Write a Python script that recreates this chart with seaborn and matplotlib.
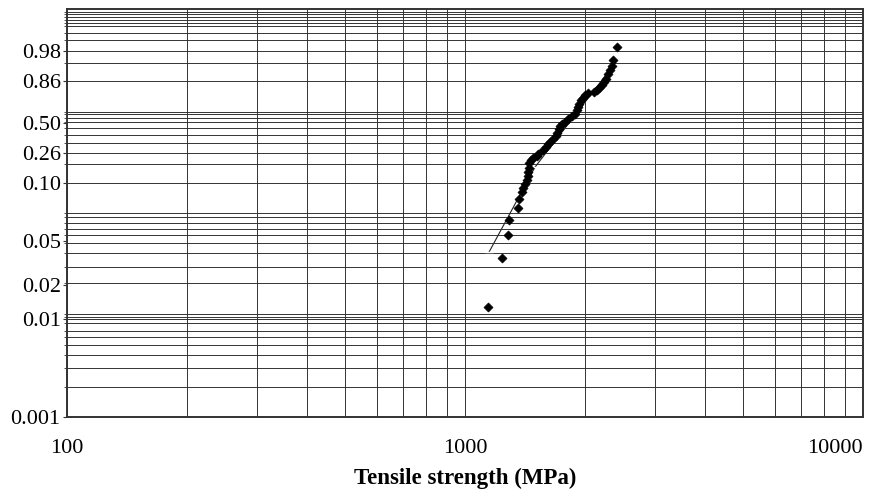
import numpy as np
import pandas as pd
import matplotlib
matplotlib.use("Agg")
import matplotlib.pyplot as plt
import matplotlib.ticker as mticker
import seaborn as sns

# ---------------- data ----------------
strength_mpa = [1142, 1239, 1282, 1290, 1356, 1369, 1388, 1401, 1415, 1429,
                1437, 1442, 1448, 1451, 1465, 1484, 1514, 1528, 1573, 1598,
                1614, 1635, 1667, 1693, 1706, 1720, 1733, 1750, 1784, 1818,
                1854, 1890, 1908, 1926, 1938, 1956, 1983, 2002, 2037, 2113,
                2142, 2175, 2205, 2235, 2261, 2292, 2314, 2337, 2350, 2405]
failure_prob = [0.0128, 0.0352, 0.0538, 0.0644, 0.0746, 0.0828, 0.0899, 0.0943, 0.0989, 0.1105,
                0.1260, 0.1435, 0.1632, 0.1912, 0.2100, 0.2234, 0.2397, 0.2523, 0.2793, 0.3015,
                0.3186, 0.3379, 0.3588, 0.3856, 0.4145, 0.4438, 0.4744, 0.4905, 0.5113, 0.5411,
                0.5616, 0.5860, 0.6160, 0.6461, 0.6771, 0.7068, 0.7272, 0.7507, 0.7677, 0.7786,
                0.7981, 0.8139, 0.8314, 0.8552, 0.8765, 0.9006, 0.9204, 0.9375, 0.9606, 0.9867]

fit_mpa = [1149, 1499, 2423]
fit_prob = [0.0398, 0.1685, 0.9615]

y_tick_values = [0.001, 0.01, 0.02, 0.05, 0.10, 0.26, 0.50, 0.86, 0.98]
y_tick_labels = ["0.001", "0.01", "0.02", "0.05", "0.10", "0.26", "0.50", "0.86", "0.98"]
x_tick_values = [100, 1000, 10000]
x_tick_labels = ["100", "1000", "10000"]

# ---------------- probability-paper scale (layout) ----------------
# heights (px above the bottom frame) of the labelled rulings on the printed paper
LABEL_HEIGHTS = [0, 98, 132, 176, 234, 264, 294, 336, 366]
TOP_HEIGHT = 408
# heights of the printed rulings
GRID_HEIGHTS = [405.3, 403, 400.3, 397.7, 394.3, 391, 384.7, 377, 366.3, 354.3,
                336.3, 305.3, 303, 299.7, 295.3, 289.7, 282.3, 274.3, 264.7, 252.7,
                234.3, 204.3, 199.7, 194.3, 188, 182, 173.7, 163.7, 150.3, 133.7,
                102.7, 100.3, 97.7, 94.3, 86.3, 79.7, 71.7, 62, 48.7, 30.3]


def weib(F):
    F = np.clip(np.asarray(F, dtype=float), 1e-15, 1 - 1e-15)
    return np.log(-np.log1p(-F))


w_lab = weib(y_tick_values)
slope_lo = (w_lab[1] - w_lab[0]) / (LABEL_HEIGHTS[1] - LABEL_HEIGHTS[0])
slope_hi = (w_lab[-1] - w_lab[-2]) / (LABEL_HEIGHTS[-1] - LABEL_HEIGHTS[-2])
w_top = w_lab[-1] + slope_hi * (TOP_HEIGHT - LABEL_HEIGHTS[-1])
P_ANCH = np.array([-1000] + LABEL_HEIGHTS + [TOP_HEIGHT, 1400], dtype=float)
W_ANCH = np.concatenate([[w_lab[0] - 1000 * slope_lo], w_lab,
                         [w_top, w_top + slope_hi * (1400 - TOP_HEIGHT)]])


def fwd(F):
    return np.interp(weib(F), W_ANCH, P_ANCH)


def inv(p):
    w = np.interp(np.asarray(p, dtype=float), P_ANCH, W_ANCH)
    return -np.expm1(-np.exp(w))


# ---------------- figure ----------------
sns.set_theme(style="white")
plt.rcParams["font.family"] = ["Liberation Serif", "DejaVu Serif"]

fig = plt.figure(figsize=(8.92, 4.96), dpi=100)
ax = fig.add_axes([0.0751, 0.1593, 0.8924, 0.8219])

pts = pd.DataFrame({"strength": strength_mpa, "prob": failure_prob})
fit = pd.DataFrame({"strength": fit_mpa, "prob": fit_prob})

ax.set_xscale("log")
ax.set_yscale("function", functions=(fwd, inv))

sns.lineplot(data=fit, x="strength", y="prob", ax=ax, color="#222222",
             linewidth=0.8, marker="_", markersize=6, markeredgewidth=1.0,
             sort=False, zorder=3)
sns.scatterplot(data=pts, x="strength", y="prob", ax=ax, marker="D",
                s=22, color="black", edgecolor="black", linewidth=0.4, zorder=4)

ax.set_xlim(100, 10000)
ax.set_ylim(y_tick_values[0], float(inv(TOP_HEIGHT)))

# y ticks
ax.yaxis.set_major_locator(mticker.FixedLocator(y_tick_values))
ax.yaxis.set_major_formatter(mticker.FixedFormatter(y_tick_labels))
ax.yaxis.set_minor_locator(mticker.FixedLocator(inv(GRID_HEIGHTS)))
ax.yaxis.set_minor_formatter(mticker.NullFormatter())

# x ticks
ax.xaxis.set_major_locator(mticker.FixedLocator(x_tick_values))
ax.xaxis.set_major_formatter(mticker.FixedFormatter(x_tick_labels))
ax.xaxis.set_minor_locator(mticker.LogLocator(base=10, subs=np.arange(2, 10)))
ax.xaxis.set_minor_formatter(mticker.NullFormatter())

ax.grid(False)
ax.grid(which="minor", axis="y", color="#333333", linewidth=0.7)
ax.grid(which="both", axis="x", color="#333333", linewidth=0.7)

ax.tick_params(axis="y", which="major", direction="out", length=3, width=0.8,
               color="#333333", pad=1.5, labelsize=16, labelcolor="black", left=True)
ax.tick_params(axis="y", which="minor", direction="out", length=2.5, width=0.6,
               color="#333333", left=True)
ax.tick_params(axis="x", which="both", length=0, pad=16, labelsize=16,
               labelcolor="black")

for sp in ax.spines.values():
    sp.set_visible(True)
    sp.set_color("#333333")
    sp.set_linewidth(1.4)

ax.set_ylabel("")
ax.set_xlabel("Tensile strength (MPa)", fontsize=16.5, fontweight="bold",
              color="black", labelpad=7)

# the last x label sits flush with the right frame, as on the printed page
fig.canvas.draw()
ax.get_xticklabels()[-1].set_horizontalalignment("right")

fig.savefig("out.png", dpi=100)
